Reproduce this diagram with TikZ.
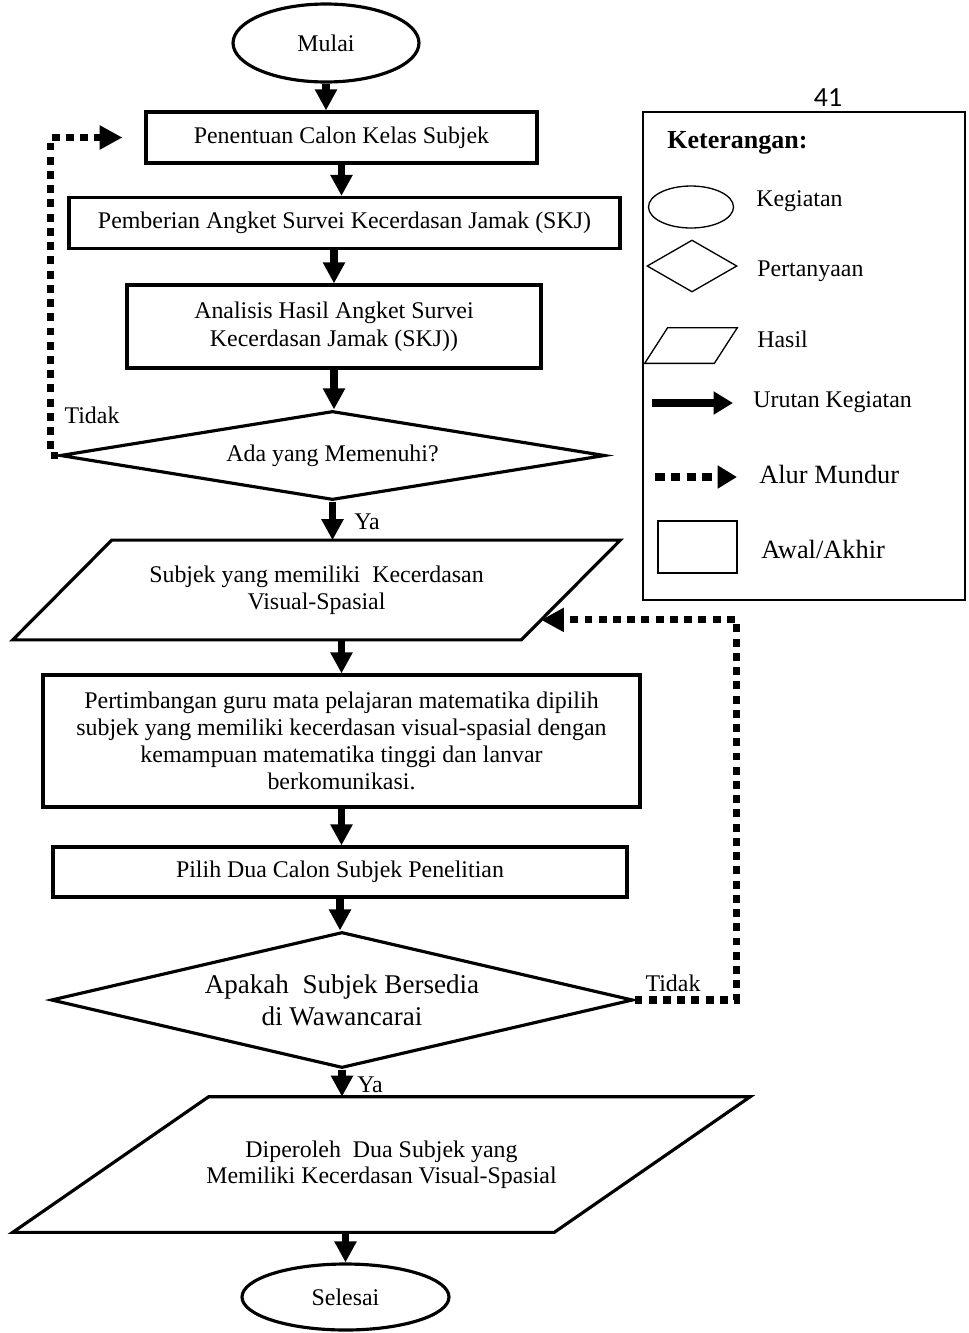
\documentclass[tikz,border=0pt]{standalone}
\usepackage{fontspec}
\setmainfont{Liberation Serif}
\newfontfamily\calibri{Carlito}
\usetikzlibrary{arrows.meta, shapes.geometric, positioning, calc}

\begin{document}
\begin{tikzpicture}[
      x=0.02cm, y=-0.02cm,
      font=\fontsize{13.6}{15.3}\selectfont,
      every node/.style={align=center, inner sep=0pt},
      kotak/.style={draw, rectangle, line width=1.8pt},
      kegiatan/.style={draw, ellipse, line width=1.8pt},
      tanya/.style={draw, diamond, line width=1.8pt},
      garis/.style={line width=1.8pt, line join=miter},
      flow/.style={line width=4.5pt, -{Triangle[length=12pt,width=12pt]}},
      back/.style={line width=4pt, dash pattern=on 4.5pt off 3.6pt, -{Triangle[length=13pt,width=13pt]}},
      tipis/.style={draw, line width=0.75pt}
      ]

      \useasboundingbox (0,0) rectangle (968,1333);

      % alur utama
      \node[kegiatan, minimum width=3.72cm, minimum height=1.56cm] (mulai) at (326,43) {Mulai};
      \node[kotak, minimum width=7.82cm, minimum height=1.02cm] (calon) at (341.5,137.5) {Penentuan Calon Kelas Subjek};
      \node[kotak, minimum width=11.02cm, minimum height=1.02cm] (angket) at (344.5,223) {Pemberian Angket Survei Kecerdasan Jamak (SKJ)};
      \node[kotak, minimum width=8.28cm, minimum height=1.66cm, font=\fontsize{13.6}{15.9}\selectfont] (analisis) at (334,326.5)
            {Analisis Hasil Angket Survei\\Kecerdasan Jamak (SKJ))};
      \node[tanya, shape aspect=6.12, minimum width=10.9cm, minimum height=1.78cm] (cek) at (332.5,455.5) {Ada yang Memenuhi?};
      \node[minimum width=12.14cm, minimum height=1.98cm] (visual) at (316.5,590)
            {Subjek yang memiliki\ \ Kecerdasan\\Visual-Spasial};
      \coordinate (visual-tl) at ($(visual.north west)+(99,0)$);
      \coordinate (visual-br) at ($(visual.south east)+(-99,0)$);
      \draw[garis] (visual-tl) -- (visual.north east) -- (visual-br) -- (visual.south west) -- cycle;
      \node[kotak, minimum width=11.94cm, minimum height=2.64cm] (guru) at (341.5,741)
            {Pertimbangan guru mata pelajaran matematika dipilih\\subjek yang memiliki kecerdasan visual-spasial dengan\\kemampuan matematika tinggi dan lanvar\\berkomunikasi.};
      \node[kotak, minimum width=11.48cm, minimum height=1cm] (pilih) at (340,872) {Pilih Dua Calon Subjek Penelitian};
      \node[tanya, shape aspect=4.28, minimum width=11.64cm, minimum height=2.72cm, font=\fontsize{15.4}{18}\selectfont] (sedia) at (342,1000)
            {Apakah\ \ Subjek Bersedia\\di Wawancarai};
      \node[minimum width=14.74cm, minimum height=2.7cm, font=\fontsize{13.6}{14.7}\selectfont] (dua) at (381.5,1164.5)
            {Diperoleh\ \ Dua Subjek yang\\Memiliki Kecerdasan Visual-Spasial};
      \coordinate (dua-tl) at ($(dua.north west)+(196,0)$);
      \coordinate (dua-br) at ($(dua.south east)+(-196,0)$);
      \draw[garis] (dua-tl) -- (dua.north east) -- (dua-br) -- (dua.south west) -- cycle;
      \node[kegiatan, minimum width=4.14cm, minimum height=1.32cm] (selesai) at (345.5,1297) {Selesai};

      \draw[flow] (mulai.south) -- (mulai.south |- calon.north);
      \draw[flow] (calon.south) -- (calon.south |- angket.north);
      \draw[flow] (analisis.north |- angket.south) -- (analisis.north);
      \draw[flow] (analisis.south) -- (analisis.south |- cek.north);
      \draw[flow] (cek.south) -- (cek.south |- visual.north);
      \draw[flow] (guru.north |- visual.south) -- (guru.north);
      \draw[flow] (guru.south) -- (guru.south |- pilih.north);
      \draw[flow] (pilih.south) -- (pilih.south |- sedia.north);
      \draw[flow] (sedia.south) -- (sedia.south |- dua.north);
      \draw[flow] (selesai.north |- dua.south) -- (selesai.north);

      % alur mundur
      \draw[back, shorten >=0.44cm] (cek.west) -- ++(-8,0) |- (calon.west);
      \coordinate (balik) at ($(visual.north east)!0.8!(visual-br)$);
      \draw[back] (sedia.east) -- ++(102,0) |- (balik);

      \node at (92,415) {Tidak};
      \node at (367,522) {Ya};
      \node at (673,983) {Tidak};
      \node at (370,1085) {Ya};

      % keterangan
      \node[font=\calibri\fontsize{15.8}{16}\selectfont] (hal) at (828,98) {41};
      \node[draw, line width=1pt, minimum width=6.44cm, minimum height=9.76cm] (ket) at (804,356) {};
      \node[anchor=west, font=\bfseries\fontsize{14.8}{16}\selectfont] (judul) at (667,143) {Keterangan:};
      \node[tipis, ellipse, minimum width=1.7cm, minimum height=0.84cm] (lg_0) at (691,207) {};
      \node[tipis, diamond, shape aspect=1.73, minimum width=1.8cm, minimum height=1.04cm] (lg_1) at (692,266) {};
      \node[minimum width=1.84cm, minimum height=0.7cm] (lg_2) at (691,345.5) {};
      \draw[line width=0.75pt] ($(lg_2.north west)+(23,0)$) -- (lg_2.north east) -- ($(lg_2.south east)+(-23,0)$) -- (lg_2.south west) -- cycle;
      \coordinate (lg_3a) at (652,403);
      \coordinate (lg_3b) at (733,403);
      \draw[line width=4.5pt, -{Triangle[length=11pt,width=12.5pt]}] (lg_3a) -- (lg_3b);
      \coordinate (lg_4a) at (655,477);
      \coordinate (lg_4b) at (737,477);
      \draw[line width=4pt, dash pattern=on 5.5pt off 3.5pt, -{Triangle[length=11pt,width=12.5pt]}] (lg_4a) -- (lg_4b);
      \node[tipis, rectangle, minimum width=1.58cm, minimum height=1.04cm] (lg_5) at (697.5,547) {};

      \node[anchor=west] at (756,201) {Kegiatan};
      \node[anchor=west] at (757,271) {Pertanyaan};
      \node[anchor=west] at (757,339) {Hasil};
      \node[anchor=west] at (753,402) {Urutan Kegiatan};
      \node[anchor=west, font=\fontsize{15}{16}\selectfont] at (759,474) {Alur Mundur};
      \node[anchor=west, font=\fontsize{15}{16}\selectfont] at (761,549) {Awal/Akhir};
    \end{tikzpicture}
\end{document}
